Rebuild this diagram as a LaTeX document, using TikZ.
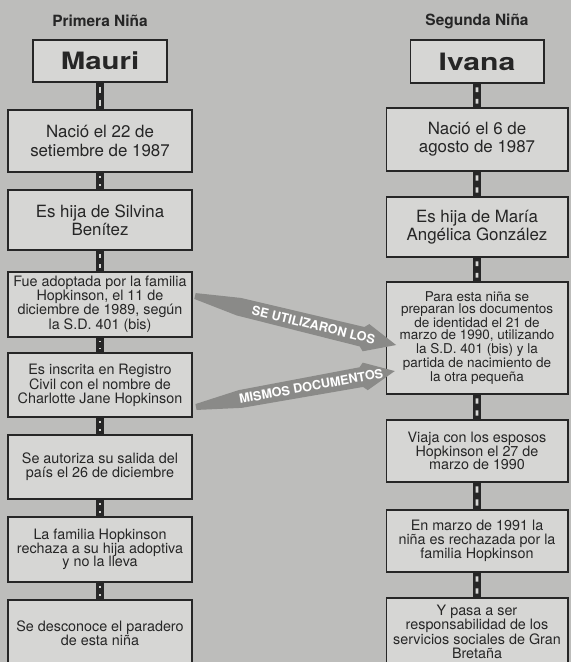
\documentclass[tikz,border=0pt]{standalone}
\usepackage{fontspec}
\setmainfont{TeX Gyre Heros}
\usetikzlibrary{calc}

\definecolor{paper}{RGB}{189,189,187}
\definecolor{boxfill}{RGB}{214,214,212}
\definecolor{ink}{RGB}{38,38,38}
\definecolor{arrowgray}{RGB}{138,138,136}

\newcommand\bigtxt{\fontsize{12}{13}\selectfont}
\newcommand\smalltxt{\fontsize{10.2}{9.8}\selectfont}
\newcommand\tinytxt{\fontsize{9.6}{8.5}\selectfont}

\tikzset{
  title/.style={text=ink,font=\bfseries\fontsize{11}{11}\selectfont},
  event/.style={draw=ink,line width=1.4pt,fill=boxfill,text=ink,
    align=center,inner sep=0pt},
  lbox/.style={event,minimum width=4.575cm},
  rbox/.style={event,minimum width=4.525cm},
  namebox/.style={event,minimum width=3.325cm,minimum height=1.07cm,
    font=\bfseries\fontsize{17}{17}\selectfont},
  ladderbar/.style={draw=ink,line width=5.2pt},
  ladderslot/.style={draw=boxfill,line width=2pt,
    shorten <=2.4pt,shorten >=2.4pt},
  docarrow/.style={fill=arrowgray},
  arrowtext/.style={text=white,transform shape,
    font=\bfseries\fontsize{9}{9}\selectfont}
}

% conector tipo escalera entre dos cajas
\newcommand\ladder[2]{%
  \draw[ladderbar] (#1.south) -- (#2.north);
  \draw[ladderslot] (#1.south) -- ($(#1.south)!.5!(#2.north)$);
  \draw[ladderslot] ($(#1.south)!.5!(#2.north)$) -- (#2.north);}

\begin{document}
\begin{tikzpicture}[x=0.025cm,y=-0.025cm]
  \useasboundingbox (0,0) rectangle (571,662);
  \clip (0,0) rectangle (571,662);
  \fill[paper] (0,0) rectangle (571,662);

  % primera nina
  \node[title] (t1) at (100,21) {Primera Niña};
  \node[namebox] (mauri) at (100,61) {\scalebox{1.23}[1]{Mauri}};
  \node[lbox,minimum height=1.55cm,font=\bigtxt] (nac1) at (100,141)
    {Nació el 22 de\\setiembre de 1987};
  \node[lbox,minimum height=1.5cm,font=\bigtxt] (hija1) at (100,220)
    {Es hija de Silvina\\Benítez};
  \node[lbox,minimum height=1.625cm,font=\smalltxt] (adop1) at (100,304.5)
    {Fue adoptada por la familia\\Hopkinson, el 11 de\\diciembre de 1989, según\\la S.D. 401 (bis)};
  \node[lbox,minimum height=1.6cm,font=\smalltxt] (insc1) at (100,385)
    {Es inscrita en Registro\\Civil con el nombre de\\Charlotte Jane Hopkinson};
  \node[lbox,minimum height=1.6cm,font=\smalltxt] (sal1) at (100,467)
    {Se autoriza su salida del\\país el 26 de diciembre};
  \node[lbox,minimum height=1.625cm,font=\smalltxt] (rech1) at (100,549.5)
    {La familia Hopkinson\\rechaza a su hija adoptiva\\y no la lleva};
  \node[lbox,minimum height=1.65cm,font=\smalltxt] (desc1) at (100,633)
    {Se desconoce el paradero\\de esta niña};

  % segunda nina
  \node[title] (t2) at (477,21) {Segunda Niña};
  \node[namebox] (ivana) at (477,61.5) {\scalebox{1.26}[1]{Ivana}};
  \node[rbox,minimum height=1.575cm,font=\bigtxt] (nac2) at (477,139.5)
    {Nació el 6 de\\agosto de 1987};
  \node[rbox,minimum height=1.5cm,font=\bigtxt] (hija2) at (477,227)
    {Es hija de María\\Angélica González};
  \node[rbox,minimum height=2.8cm,font=\tinytxt] (docs2) at (477,338)
    {Para esta niña se\\preparan los documentos\\de identidad el 21 de\\marzo de 1990, utilizando\\la S.D. 401 (bis) y la\\partida de nacimiento de\\la otra pequeña};
  \node[rbox,minimum height=1.55cm,font=\smalltxt] (viaje2) at (477,451)
    {Viaja con los esposos\\Hopkinson el 27 de\\marzo de 1990};
  \node[rbox,minimum height=1.55cm,font=\smalltxt] (rech2) at (477,541)
    {En marzo de 1991 la\\niña es rechazada por la\\familia Hopkinson};
  \node[rbox,minimum height=1.7cm,font=\smalltxt] (serv2) at (477,632)
    {Y pasa a ser\\responsabilidad de los\\servicios sociales de Gran\\Bretaña};

  \ladder{mauri}{nac1}
  \ladder{nac1}{hija1}
  \ladder{hija1}{adop1}
  \ladder{adop1}{insc1}
  \ladder{insc1}{sal1}
  \ladder{sal1}{rech1}
  \ladder{rech1}{desc1}
  \ladder{ivana}{nac2}
  \ladder{nac2}{hija2}
  \ladder{hija2}{docs2}
  \ladder{docs2}{viaje2}
  \ladder{viaje2}{rech2}
  \ladder{rech2}{serv2}

  % flechas de los documentos
  \begin{scope}[shift={(195,296)},rotate=-13.7]
  \fill[docarrow] (0,-3) -- (45,-9) -- (172,-10) -- (176,-14) -- (207,0) --
    (176,14) -- (172,10) -- (45,9) -- (0,3) -- cycle;
  \node[arrowtext] (usados) at (122,0) {SE UTILIZARON LOS};
  \end{scope}

  \begin{scope}[shift={(196,407)},rotate=10.25]
  \fill[docarrow] (0,-3) -- (45,-9) -- (168,-10) -- (172,-14) -- (202,0) --
    (172,14) -- (168,10) -- (45,9) -- (0,3) -- cycle;
  \node[arrowtext] (mismos) at (117,0) {MISMOS DOCUMENTOS};
  \end{scope}

\end{tikzpicture}
\end{document}
